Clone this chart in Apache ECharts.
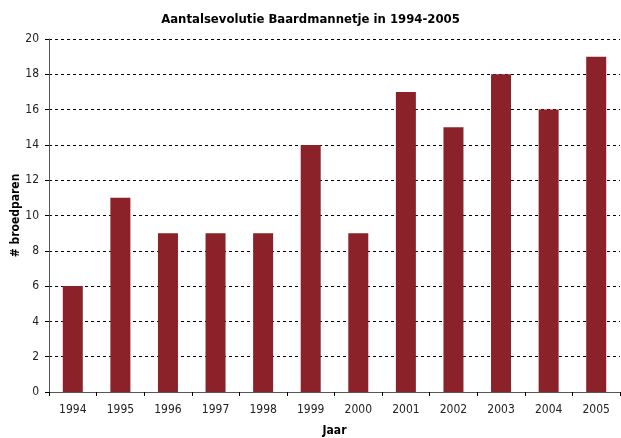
<!DOCTYPE html>
<html><head><meta charset="utf-8">
<script src="https://cdn.jsdelivr.net/npm/echarts@6/dist/echarts.min.js"></script>
<style>html,body{margin:0;padding:0;background:#fff}#c{width:621px;height:438px}</style>
</head><body><div id="c"></div>
<script>
const categories = ['1994','1995','1996','1997','1998','1999','2000','2001','2002','2003','2004','2005'];
const values = [6, 11, 9, 9, 9, 14, 9, 17, 15, 18, 16, 19];
const yTicks = [0, 2, 4, 6, 8, 10, 12, 14, 16, 18, 20];
const titleText = 'Aantalsevolutie Baardmannetje in 1994-2005';
const xName = 'Jaar';
const yName = '# broedparen';

const FONT = "'Liberation Sans Narrow', 'DejaVu Sans Condensed', 'Liberation Sans', sans-serif";
const chart = echarts.init(document.getElementById('c'));
chart.setOption({
  animation: false,
  title: {text: titleText, left: 'center', top: 8, textStyle: {fontFamily: FONT, fontSize: 13, fontWeight: 'bold', color: '#000'}},
  grid: {left: 49, right: 1, top: 39, bottom: 46, containLabel: false, outerBoundsMode: 'none'},
  xAxis: {
    type: 'category', data: categories,
    name: xName, nameLocation: 'middle', nameGap: 33, nameMoveOverlap: false,
    nameTextStyle: {fontFamily: FONT, fontSize: 12, fontWeight: 'bold', color: '#000'},
    axisLine: {lineStyle: {color: '#555', width: 1}},
    axisTick: {show: true, alignWithLabel: false, length: 4, lineStyle: {color: '#000'}},
    axisLabel: {fontFamily: FONT, fontSize: 12, color: '#222', margin: 12},
    splitLine: {show: false}
  },
  yAxis: {
    type: 'value', min: yTicks[0], max: yTicks[yTicks.length-1], interval: 2,
    name: yName, nameLocation: 'middle', nameGap: 27, nameMoveOverlap: false,
    nameTextStyle: {fontFamily: FONT, fontSize: 12, fontWeight: 'bold', color: '#000'},
    axisLine: {show: true, lineStyle: {color: '#555', width: 1}},
    axisTick: {show: true, length: 4, lineStyle: {color: '#000'}},
    axisLabel: {fontFamily: FONT, fontSize: 12, color: '#222', margin: 10},
    splitLine: {show: true, lineStyle: {color: '#000', type: [3, 3], width: 1}}
  },
  series: [{
    type: 'bar', data: values, barWidth: 20,
    itemStyle: {color: '#8B2129'}
  }]
});
</script></body></html>
